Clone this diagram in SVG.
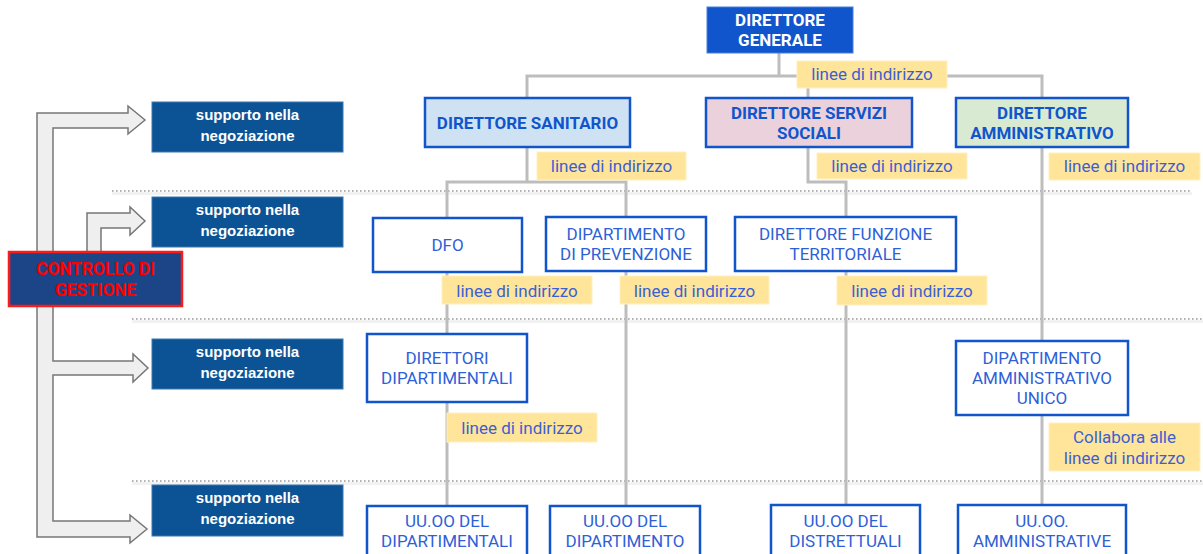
<svg xmlns="http://www.w3.org/2000/svg" width="1203" height="554" viewBox="0 0 1203 554">
<style>
.dot{stroke:#9a9a9a;stroke-width:1.6;stroke-dasharray:1.6 2.4;fill:none}
.band{fill:#f2f2f2}
.con{stroke:#bdbdbd;stroke-width:3;fill:none}
.lab{fill:#ffe599;stroke:#fff0c0;stroke-width:1}
.labt{font-family:Roboto,"Liberation Sans",sans-serif;font-size:17px;fill:#3b5fd4;text-anchor:middle}
.box{fill:#fff;stroke:#1155cc;stroke-width:2.5}
.boxt{font-family:Roboto,"Liberation Sans",sans-serif;font-size:17px;fill:#2f5fd8;text-anchor:middle}
.hdt{font-family:Roboto,"Liberation Sans",sans-serif;font-size:17px;font-weight:bold;fill:#1155cc;text-anchor:middle}
.sup{fill:#0b5394;stroke:#3d78b0;stroke-width:1}
.supt{font-family:"Liberation Sans",Arial,sans-serif;font-size:15px;font-weight:bold;fill:#fff;text-anchor:middle}
.arr{fill:#efefef;stroke:#777;stroke-width:1.5;stroke-linejoin:miter}
</style>
<rect width="1203" height="554" fill="#fff"/>
<g id="separators">
<rect class="band" x="112" y="192" width="1080" height="3"/>
<line class="dot" x1="112" y1="191" x2="1190" y2="191"/>
<rect class="band" x="132" y="320" width="1071" height="3"/>
<line class="dot" x1="132" y1="319" x2="1203" y2="319"/>
<rect class="band" x="132" y="482" width="1071" height="3"/>
<line class="dot" x1="132" y1="481" x2="1203" y2="481"/>
</g>
<g id="connectors">
<path class="con" d="M779,53 V76 M527,98 V76 H1042 V98 M808,76 V98"/>
<path class="con" d="M527,147 V182 M447,218 V182 H626 V217"/>
<path class="con" d="M808,147 V182 H846 V217"/>
<path class="con" d="M1042,147 V341"/>
<path class="con" d="M447,272 V334"/>
<path class="con" d="M626,271 V506"/>
<path class="con" d="M846,271 V505"/>
<path class="con" d="M447,402 V506"/>
<path class="con" d="M1042,415 V505"/>
</g>
<g id="arrows">
<path class="arr" d="M37,537 V113 H128 V106 L145,120 L128,134 V128 H53 V361 H133 V354 L148,368 L133,382 V375 H53 V521 H130 V515 L147,529 L130,543 V537 Z"/>
<path class="arr" d="M87,253 V213 H130 V207 L145,221 L130,235 V228 H101 V253"/>
</g>
<g id="controllo">
<rect x="9" y="252" width="173" height="54" fill="#1c4587" stroke="#ff1a1a" stroke-width="2.5"/>
<text x="95.5" y="275" font-family="Roboto,'Liberation Sans',sans-serif" font-size="17.5" font-weight="bold" fill="#ff0000" text-anchor="middle" letter-spacing="-0.2">CONTROLLO DI</text>
<text x="95.5" y="296" font-family="Roboto,'Liberation Sans',sans-serif" font-size="17.5" font-weight="bold" fill="#ff0000" text-anchor="middle" letter-spacing="-0.2">GESTIONE</text>
</g>
<g id="supporto1"><rect class="sup" x="152" y="102" width="191" height="50"/><text class="supt" x="247.5" y="120">supporto nella</text><text class="supt" x="247.5" y="141">negoziazione</text></g>
<g id="supporto2"><rect class="sup" x="152" y="197" width="191" height="50"/><text class="supt" x="247.5" y="215">supporto nella</text><text class="supt" x="247.5" y="236">negoziazione</text></g>
<g id="supporto3"><rect class="sup" x="152" y="339" width="191" height="50"/><text class="supt" x="247.5" y="357">supporto nella</text><text class="supt" x="247.5" y="378">negoziazione</text></g>
<g id="supporto4"><rect class="sup" x="152" y="485" width="191" height="51"/><text class="supt" x="247.5" y="503">supporto nella</text><text class="supt" x="247.5" y="524">negoziazione</text></g>
<g id="dg"><rect x="707" y="7" width="146" height="46" fill="#1155cc" stroke="#4a7fd8" stroke-width="1"/>
<text x="780" y="26" font-family="Roboto,'Liberation Sans',sans-serif" font-size="17" font-weight="bold" fill="#fff" text-anchor="middle">DIRETTORE</text>
<text x="780" y="46" font-family="Roboto,'Liberation Sans',sans-serif" font-size="17" font-weight="bold" fill="#fff" text-anchor="middle">GENERALE</text></g>
<g id="lab-dg"><rect class="lab" x="797" y="61" width="150" height="27"/><text class="labt" x="872" y="80">linee di indirizzo</text></g>
<g id="ds"><rect x="425" y="98" width="205" height="49" fill="#cfe2f3" stroke="#1155cc" stroke-width="2.5"/><text class="hdt" x="527.5" y="129">DIRETTORE SANITARIO</text></g>
<g id="dss"><rect x="706" y="98" width="206" height="49" fill="#ead1dc" stroke="#1155cc" stroke-width="2.5"/><text class="hdt" x="809" y="119">DIRETTORE SERVIZI</text><text class="hdt" x="809" y="139">SOCIALI</text></g>
<g id="da"><rect x="956" y="98" width="172" height="49" fill="#d9ead3" stroke="#1155cc" stroke-width="2.5"/><text class="hdt" x="1042" y="119">DIRETTORE</text><text class="hdt" x="1042" y="139">AMMINISTRATIVO</text></g>
<g id="lab-ds"><rect class="lab" x="537" y="152" width="149" height="28"/><text class="labt" x="611.5" y="172">linee di indirizzo</text></g>
<g id="lab-dss"><rect class="lab" x="817" y="153" width="150" height="26"/><text class="labt" x="892" y="172">linee di indirizzo</text></g>
<g id="lab-da"><rect class="lab" x="1049" y="153" width="151" height="27"/><text class="labt" x="1124.5" y="172">linee di indirizzo</text></g>
<g id="dfo"><rect class="box" x="373" y="218" width="149" height="54"/><text class="boxt" x="447.5" y="251">DFO</text></g>
<g id="dp"><rect class="box" x="546" y="217" width="160" height="54"/><text class="boxt" x="626" y="240">DIPARTIMENTO</text><text class="boxt" x="626" y="260">DI PREVENZIONE</text></g>
<g id="dft"><rect class="box" x="735" y="217" width="221" height="54"/><text class="boxt" x="845.5" y="240">DIRETTORE FUNZIONE</text><text class="boxt" x="845.5" y="260">TERRITORIALE</text></g>
<g id="lab-dfo"><rect class="lab" x="442" y="276" width="150" height="28"/><text class="labt" x="517" y="297">linee di indirizzo</text></g>
<g id="lab-dp"><rect class="lab" x="620" y="276" width="149" height="28"/><text class="labt" x="694.5" y="297">linee di indirizzo</text></g>
<g id="lab-dft"><rect class="lab" x="837" y="276" width="150" height="29"/><text class="labt" x="912" y="297">linee di indirizzo</text></g>
<g id="ddip"><rect class="box" x="367" y="334" width="160" height="68"/><text class="boxt" x="447" y="364">DIRETTORI</text><text class="boxt" x="447" y="384">DIPARTIMENTALI</text></g>
<g id="dau"><rect class="box" x="956" y="341" width="172" height="74"/><text class="boxt" x="1042" y="364">DIPARTIMENTO</text><text class="boxt" x="1042" y="384">AMMINISTRATIVO</text><text class="boxt" x="1042" y="404">UNICO</text></g>
<g id="lab-ddip"><rect class="lab" x="447" y="413" width="150" height="29"/><text class="labt" x="522" y="434">linee di indirizzo</text></g>
<g id="lab-dau"><rect class="lab" x="1049" y="423" width="151" height="48"/><text class="labt" x="1124.5" y="443">Collabora alle</text><text class="labt" x="1124.5" y="464">linee di indirizzo</text></g>
<g id="uu1"><rect class="box" x="367" y="506" width="160" height="60"/><text class="boxt" x="447" y="527">UU.OO DEL</text><text class="boxt" x="447" y="547">DIPARTIMENTALI</text></g>
<g id="uu2"><rect class="box" x="550" y="506" width="150" height="60"/><text class="boxt" x="625" y="527">UU.OO DEL</text><text class="boxt" x="625" y="547">DIPARTIMENTO</text></g>
<g id="uu3"><rect class="box" x="771" y="505" width="149" height="60"/><text class="boxt" x="845.5" y="527">UU.OO DEL</text><text class="boxt" x="845.5" y="547">DISTRETTUALI</text></g>
<g id="uu4"><rect class="box" x="958" y="505" width="168" height="60"/><text class="boxt" x="1042" y="527">UU.OO.</text><text class="boxt" x="1042" y="547">AMMINISTRATIVE</text></g>
</svg>
